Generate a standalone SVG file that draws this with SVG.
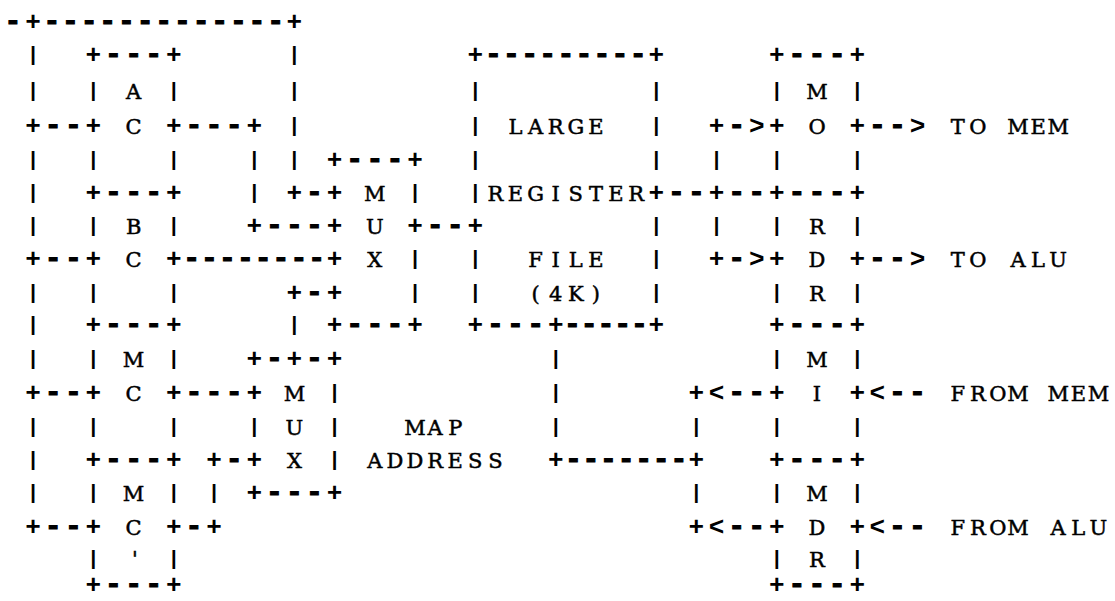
<svg xmlns="http://www.w3.org/2000/svg" width="1115" height="601" viewBox="0 0 1115 601">
<style>
text{fill:#000;text-anchor:middle;font-family:"Liberation Mono",monospace;font-weight:bold;font-size:26px}
.d{font-size:28px;stroke:#000;stroke-width:1.1}
.v{font-size:21px}
.t{font-family:"DejaVu Serif",serif;font-weight:normal;font-size:21px;stroke:#000;stroke-width:0.5}
</style>
<rect width="1115" height="601" fill="#fff"/>

<g id="connectors">
<text x="13 33.1 51.8 70.4 89.1 107.7 126.4 145.1 163.7 182.4 201.1 219.7 238.4 257.0 275.7 294.4" y="30.2"><tspan class="d">-</tspan>+<tspan class="d">-------------</tspan>+</text>
<text class="v" x="33.1" y="60.8">|</text>
<text class="v" x="294.4" y="60.8">|</text>
<text class="v" x="33.1" y="96.8">|</text>
<text class="v" x="294.4" y="96.8">|</text>
<text x="33.1 53.2 73.3" y="134.2">+<tspan class="d">--</tspan></text>
<text x="193.9 214.0 234.1 254.2" y="134.2"><tspan class="d">---</tspan>+</text>
<text class="v" x="294.4" y="131.8">|</text>
<text x="716.5 736.6 756.7" y="134.2">+<tspan class="d">-</tspan>&gt;</text>
<text x="877.3 897.4 917.5" y="134.2"><tspan class="d">--</tspan>&gt;</text>
<text class="t" x="957.7 977.8 997.9 1018.0 1038.1 1058.2" y="133.7">TO MEM</text>
<text class="v" x="33.1" y="165.8">|</text>
<text class="v" x="254.2" y="165.8">|</text>
<text class="v" x="294.4" y="165.8">|</text>
<text class="v" x="716.5" y="165.8">|</text>
<text class="v" x="33.1" y="198.8">|</text>
<text class="v" x="254.2" y="198.8">|</text>
<text x="294.4 314.5" y="201.2">+<tspan class="d">-</tspan></text>
<text x="676.3 696.4 716.5 736.6 756.7" y="201.2"><tspan class="d">--</tspan>+<tspan class="d">--</tspan></text>
<text class="v" x="33.1" y="231.8">|</text>
<text x="254.2 274.3 294.4 314.5" y="234.2">+<tspan class="d">---</tspan></text>
<text class="d" x="435.1 455.2" y="234.2">--</text>
<text class="v" x="716.5" y="231.8">|</text>
<text x="33.1 53.2 73.3" y="267.2">+<tspan class="d">--</tspan></text>
<text class="d" x="191.7 209.5 227.4 245.3 263.1 281.0 298.9 316.7" y="267.2">--------</text>
<text x="716.5 736.6 756.7" y="267.2">+<tspan class="d">-</tspan>&gt;</text>
<text x="877.3 897.4 917.5" y="267.2"><tspan class="d">--</tspan>&gt;</text>
<text class="t" x="957.7 977.8 997.9 1018.0 1038.1 1058.2" y="266.7">TO ALU</text>
<text class="v" x="33.1" y="298.8">|</text>
<text x="294.4 314.5" y="301.2">+<tspan class="d">-</tspan></text>
<text class="v" x="33.1" y="330.8">|</text>
<text class="v" x="294.4" y="330.8">|</text>
<text class="v" x="33.1" y="364.8">|</text>
<text class="v" x="555.7" y="364.8">|</text>
<text x="33.1 53.2 73.3" y="401.2">+<tspan class="d">--</tspan></text>
<text class="d" x="193.9 214.0 234.1" y="401.2">---</text>
<text class="v" x="555.7" y="398.8">|</text>
<text x="696.4 716.5 736.6 756.7" y="401.2">+&lt;<tspan class="d">--</tspan></text>
<text x="877.3 897.4 917.5" y="401.2">&lt;<tspan class="d">--</tspan></text>
<text class="t" x="957.7 977.8 997.9 1018.0 1038.1 1058.2 1078.3 1098.4" y="400.7">FROM MEM</text>
<text class="v" x="33.1" y="432.8">|</text>
<text class="v" x="555.7" y="432.8">|</text>
<text class="v" x="696.4" y="432.8">|</text>
<text class="t" x="415.0 435.1 455.2" y="434.7">MAP</text>
<text class="v" x="33.1" y="465.8">|</text>
<text x="214.0 234.1" y="468.2">+<tspan class="d">-</tspan></text>
<text class="t" x="374.8 394.9 415.0 435.1 455.2 475.3 495.4" y="467.7">ADDRESS</text>
<text x="555.7 573.3 590.9 608.5 626.1 643.6 661.2 678.8 696.4" y="468.2">+<tspan class="d">-------</tspan>+</text>
<text class="v" x="33.1" y="498.8">|</text>
<text class="v" x="214.0" y="498.8">|</text>
<text class="v" x="696.4" y="498.8">|</text>
<text x="33.1 53.2 73.3" y="535.2">+<tspan class="d">--</tspan></text>
<text x="193.9 214.0" y="535.2"><tspan class="d">-</tspan>+</text>
<text x="696.4 716.5 736.6 756.7" y="535.2">+&lt;<tspan class="d">--</tspan></text>
<text x="877.3 897.4 917.5" y="535.2">&lt;<tspan class="d">--</tspan></text>
<text class="t" x="957.7 977.8 997.9 1018.0 1038.1 1058.2 1078.3 1098.4" y="534.7">FROM ALU</text>
</g>

<g id="node-ac">
<text x="93.4 113.5 133.6 153.7 173.8" y="63.2">+<tspan class="d">---</tspan>+</text>
<text class="v" x="93.4" y="96.8">|</text>
<text class="t" x="133.6" y="98.7">A</text>
<text class="v" x="173.8" y="96.8">|</text>
<text x="93.4" y="134.2">+</text>
<text class="t" x="133.6" y="133.7">C</text>
<text x="173.8" y="134.2">+</text>
<text class="v" x="93.4" y="165.8">|</text>
<text class="v" x="173.8" y="165.8">|</text>
<text x="93.4 113.5 133.6 153.7 173.8" y="201.2">+<tspan class="d">---</tspan>+</text>
</g>

<g id="node-bc">
<text class="v" x="93.4" y="231.8">|</text>
<text class="t" x="133.6" y="233.7">B</text>
<text class="v" x="173.8" y="231.8">|</text>
<text x="93.4" y="267.2">+</text>
<text class="t" x="133.6" y="266.7">C</text>
<text x="173.8" y="267.2">+</text>
<text class="v" x="93.4" y="298.8">|</text>
<text class="v" x="173.8" y="298.8">|</text>
<text x="93.4 113.5 133.6 153.7 173.8" y="333.2">+<tspan class="d">---</tspan>+</text>
</g>

<g id="node-mc">
<text class="v" x="93.4" y="364.8">|</text>
<text class="t" x="133.6" y="366.7">M</text>
<text class="v" x="173.8" y="364.8">|</text>
<text x="93.4" y="401.2">+</text>
<text class="t" x="133.6" y="400.7">C</text>
<text x="173.8" y="401.2">+</text>
<text class="v" x="93.4" y="432.8">|</text>
<text class="v" x="173.8" y="432.8">|</text>
<text x="93.4 113.5 133.6 153.7 173.8" y="468.2">+<tspan class="d">---</tspan>+</text>
</g>

<g id="node-mc-prime">
<text class="v" x="93.4" y="498.8">|</text>
<text class="t" x="133.6" y="500.7">M</text>
<text class="v" x="173.8" y="498.8">|</text>
<text x="93.4" y="535.2">+</text>
<text class="t" x="133.6" y="534.7">C</text>
<text x="173.8" y="535.2">+</text>
<text class="v" x="93.4" y="565">|</text>
<text class="t" x="135" y="566">'</text>
<text class="v" x="173.8" y="565">|</text>
<text x="93.4 113.5 133.6 153.7 173.8" y="593">+<tspan class="d">---</tspan>+</text>
</g>

<g id="node-mux-upper">
<text x="334.6 354.7 374.8 394.9 415.0" y="168.2">+<tspan class="d">---</tspan>+</text>
<text x="334.6" y="201.2">+</text>
<text class="t" x="374.8" y="200.7">M</text>
<text class="v" x="415.0" y="198.8">|</text>
<text x="334.6" y="234.2">+</text>
<text class="t" x="374.8" y="233.7">U</text>
<text x="415.0" y="234.2">+</text>
<text x="334.6" y="267.2">+</text>
<text class="t" x="374.8" y="266.7">X</text>
<text class="v" x="415.0" y="264.8">|</text>
<text x="334.6" y="301.2">+</text>
<text class="v" x="415.0" y="298.8">|</text>
<text x="334.6 354.7 374.8 394.9 415.0" y="333.2">+<tspan class="d">---</tspan>+</text>
</g>

<g id="node-mux-lower">
<text x="254.2 274.3 294.4 314.5 334.6" y="367.2">+<tspan class="d">-</tspan>+<tspan class="d">-</tspan>+</text>
<text x="254.2" y="401.2">+</text>
<text class="t" x="294.4" y="400.7">M</text>
<text class="v" x="334.6" y="398.8">|</text>
<text class="v" x="254.2" y="432.8">|</text>
<text class="t" x="294.4" y="434.7">U</text>
<text class="v" x="334.6" y="432.8">|</text>
<text x="254.2" y="468.2">+</text>
<text class="t" x="294.4" y="467.7">X</text>
<text class="v" x="334.6" y="465.8">|</text>
<text x="254.2 274.3 294.4 314.5 334.6" y="501.2">+<tspan class="d">---</tspan>+</text>
</g>

<g id="node-register-file">
<text x="475.3 493.4 511.5 529.6 547.7 565.8 583.8 601.9 620.0 638.1 656.2" y="63.2">+<tspan class="d">---------</tspan>+</text>
<text class="v" x="475.3" y="96.8">|</text>
<text class="v" x="656.2" y="96.8">|</text>
<text class="v" x="475.3" y="131.8">|</text>
<text class="t" x="515.5 535.6 555.7 575.8 595.9" y="133.7">LARGE</text>
<text class="v" x="656.2" y="131.8">|</text>
<text class="v" x="475.3" y="165.8">|</text>
<text class="v" x="656.2" y="165.8">|</text>
<text class="v" x="475.3" y="198.8">|</text>
<text class="t" x="495.4 515.5 535.6 555.7 575.8 595.9 616.0 636.1" y="200.7">REGISTER</text>
<text x="656.2" y="201.2">+</text>
<text x="475.3" y="234.2">+</text>
<text class="v" x="656.2" y="231.8">|</text>
<text class="v" x="475.3" y="264.8">|</text>
<text class="t" x="535.6 555.7 575.8 595.9" y="266.7">FILE</text>
<text class="v" x="656.2" y="264.8">|</text>
<text class="v" x="475.3" y="298.8">|</text>
<text class="t" x="535.6 555.7 575.8 595.9" y="300.7">(4K)</text>
<text class="v" x="656.2" y="298.8">|</text>
<text x="475.3 495.4 515.5 535.6 555.7 572.5 589.2 606.0 622.7 639.5 656.2" y="333.2">+<tspan class="d">---</tspan>+<tspan class="d">-----</tspan>+</text>
</g>

<g id="node-mo">
<text x="776.8 796.9 817.0 837.1 857.2" y="63.2">+<tspan class="d">---</tspan>+</text>
<text class="v" x="776.8" y="96.8">|</text>
<text class="t" x="817" y="98.7">M</text>
<text class="v" x="857.2" y="96.8">|</text>
<text x="776.8" y="134.2">+</text>
<text class="t" x="817" y="133.7">O</text>
<text x="857.2" y="134.2">+</text>
<text class="v" x="776.8" y="165.8">|</text>
<text class="v" x="857.2" y="165.8">|</text>
<text x="776.8 796.9 817.0 837.1 857.2" y="201.2">+<tspan class="d">---</tspan>+</text>
</g>

<g id="node-rdr">
<text class="v" x="776.8" y="231.8">|</text>
<text class="t" x="817" y="233.7">R</text>
<text class="v" x="857.2" y="231.8">|</text>
<text x="776.8" y="267.2">+</text>
<text class="t" x="817" y="266.7">D</text>
<text x="857.2" y="267.2">+</text>
<text class="v" x="776.8" y="298.8">|</text>
<text class="t" x="817" y="300.7">R</text>
<text class="v" x="857.2" y="298.8">|</text>
<text x="776.8 796.9 817.0 837.1 857.2" y="333.2">+<tspan class="d">---</tspan>+</text>
</g>

<g id="node-mi">
<text class="v" x="776.8" y="364.8">|</text>
<text class="t" x="817" y="366.7">M</text>
<text class="v" x="857.2" y="364.8">|</text>
<text x="776.8" y="401.2">+</text>
<text class="t" x="817" y="400.7">I</text>
<text x="857.2" y="401.2">+</text>
<text class="v" x="776.8" y="432.8">|</text>
<text class="v" x="857.2" y="432.8">|</text>
<text x="776.8 796.9 817.0 837.1 857.2" y="468.2">+<tspan class="d">---</tspan>+</text>
</g>

<g id="node-mdr">
<text class="v" x="776.8" y="498.8">|</text>
<text class="t" x="817" y="500.7">M</text>
<text class="v" x="857.2" y="498.8">|</text>
<text x="776.8" y="535.2">+</text>
<text class="t" x="817" y="534.7">D</text>
<text x="857.2" y="535.2">+</text>
<text class="v" x="776.8" y="565">|</text>
<text class="t" x="817" y="566.9">R</text>
<text class="v" x="857.2" y="565">|</text>
<text x="776.8 796.9 817.0 837.1 857.2" y="593">+<tspan class="d">---</tspan>+</text>
</g>
</svg>
